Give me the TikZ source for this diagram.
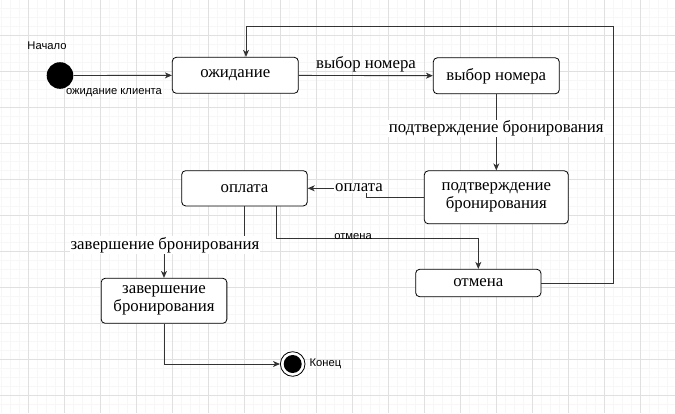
\documentclass[tikz,border=0pt]{standalone}
\usepackage{fontspec}
\setmainfont{Liberation Serif}
\newfontfamily\lblfont{Liberation Sans}
\usepackage{tikz}
\usetikzlibrary{arrows.meta}

\begin{document}
\begin{tikzpicture}[x=1pt,y=-1pt,
    stbox/.style={draw=black, rounded corners=4pt, line width=0.8pt, fill=white, align=center,
        font=\fontsize{16.8}{18}\selectfont, inner sep=0pt},
    conn/.style={draw=black!80, line width=0.9pt, -{Stealth[length=7pt,width=6pt,inset=2pt]}},
    small/.style={font=\lblfont\fontsize{11.2}{13}\selectfont, inner sep=1pt},
    big/.style={font=\fontsize{16.8}{18}\selectfont, fill=white, inner sep=1pt}]
    \useasboundingbox (0,0) rectangle (675,413);
    % grid
    \foreach \gx in {1.3,10.3,...,675} \draw[black!3, line width=0.5pt] (\gx,0) -- (\gx,413);
    \foreach \gy in {8.3,17.3,...,413} \draw[black!3, line width=0.5pt] (0,\gy) -- (675,\gy);
    \foreach \gx in {28.3,64.3,...,675} \draw[black!12, line width=0.8pt] (\gx,0) -- (\gx,413);
    \foreach \gy in {35.3,71.3,...,413} \draw[black!12, line width=0.8pt] (0,\gy) -- (675,\gy);

    \node[circle, fill=black, minimum size=26.6pt, inner sep=0pt] (start) at (60,75.5) {};
    \node[small] (startlbl) at (47,46) {Начало};
    \node[stbox, minimum width=126pt, minimum height=36pt] (wait) at (235.3,75.3) {ожидание};
    \node[stbox, minimum width=126pt, minimum height=36pt] (room) at (496.3,75.8) {выбор номера};
    \node[stbox, minimum width=144pt, minimum height=53pt] (confirm) at (496.3,197.3) {подтверждение\\бронирования};
    \node[stbox, minimum width=125.6pt, minimum height=35.3pt] (pay) at (244.5,188.3) {оплата};
    \node[stbox, minimum width=125.3pt, minimum height=27.4pt] (cancel) at (478.3,283) {отмена};
    \node[stbox, minimum width=125.7pt, minimum height=45pt] (done) at (164,300.8) {завершение\\бронирования};
    \node[circle, draw=black, line width=0.8pt, fill=white, minimum size=24.6pt, inner sep=0pt] (end) at (292.7,364) {};
    \node[circle, fill=black, minimum size=18pt, inner sep=0pt] at (end) {};
    \node[small] (endlbl) at (325.5,364) {Конец};
    \coordinate (loop) at (613,26);

    \draw[conn] (start) -- (wait);
    \node[small] at (114,93) {ожидание клиента};
    \draw[conn] (wait) -- (room);
    \node[big, fill=none] at (366,64) {выбор номера};
    \draw[conn] (room) -- (confirm) node[big, pos=0.45] {подтверждение бронирования};
    \draw[conn] (confirm.west) -- ++(-57,0) |- (pay.east);
    \node[big] at (359,188) {оплата};
    \draw[conn] (pay.south) -- ++(0,39) -| (done.north);
    \node[big] at (165,245) {завершение бронирования};
    \draw[conn] ([xshift=31.5pt]pay.south) -- ++(0,32) -| (cancel.north);
    \node[small] at (353,236.5) {отмена};
    \draw[conn] (cancel.east) -| (loop) -| ([xshift=10.7pt]wait.north);
    \draw[conn] (done.south) |- (end.west);
\end{tikzpicture}
\end{document}
